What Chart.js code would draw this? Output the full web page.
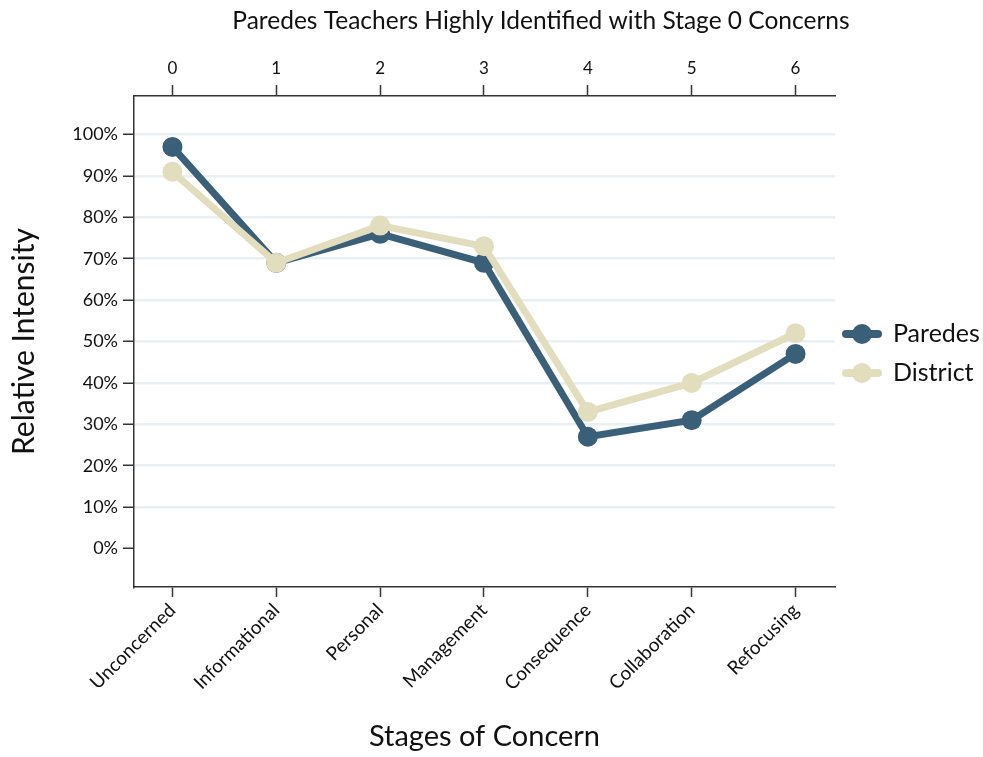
<!DOCTYPE html>
<html lang="en">
<head>
  <meta charset="UTF-8">
  <title>Paredes Teachers Highly Identified with Stage 0 Concerns</title>
  <script src="https://cdn.jsdelivr.net/npm/chart.js"></script>
  <style>
    html, body { margin:0; padding:0; background:#fff; }
    #chart { display:block; }
  </style>
</head>
<body>
<canvas id="chart" width="983" height="757"></canvas>

<script>
// data
const stages   = ['Unconcerned','Informational','Personal','Management','Consequence','Collaboration','Refocusing'];
const stageNums = ['0','1','2','3','4','5','6'];
const paredes  = [97, 69, 76, 69, 27, 31, 47];
const district = [91, 69, 78, 73, 33, 40, 52];
const yTicks   = [0, 10, 20, 30, 40, 50, 60, 70, 80, 90, 100];

const FONT = 'Lato, "Open Sans", sans-serif';
const blue = '#3a6079', sand = '#e1ddbd', axisCol = '#333', gridCol = '#e8f0f3';

const pts = arr => arr.map((v,i)=>({x:i, y:v}));
const catTicks = s => { s.ticks = stages.map((_,i)=>({value:i})); };

// title + right side legend drawn on canvas
const extras = {
  id:'extras',
  afterDraw(chart){
    const c = chart.ctx;
    c.save();
    c.fillStyle = '#111';
    c.font = '24.5px ' + FONT;
    c.textAlign = 'center'; c.textBaseline = 'middle';
    c.fillText('Paredes Teachers Highly Identified with Stage 0 Concerns', 541, 21);

    const items = [{label:'Paredes', col:blue, y:334}, {label:'District', col:sand, y:373}];
    items.forEach(it=>{
      c.strokeStyle = it.col; c.lineWidth = 8; c.lineCap = 'round';
      c.beginPath(); c.moveTo(846, it.y); c.lineTo(878, it.y); c.stroke();
      c.fillStyle = it.col;
      c.beginPath(); c.arc(862, it.y, 10, 0, Math.PI*2); c.fill();
      c.fillStyle = '#111'; c.font = '25px ' + FONT; c.textAlign = 'left';
      c.fillText(it.label, 893, it.y);
    });
    c.restore();
  }
};

new Chart(document.getElementById('chart'), {
  type:'line',
  data:{
    datasets:[
      {label:'Paredes', data:pts(paredes), borderColor:blue, backgroundColor:blue,
       pointBackgroundColor:blue, borderWidth:7, pointRadius:10, pointHoverRadius:10, pointBorderWidth:0, order:2},
      {label:'District', data:pts(district), borderColor:sand, backgroundColor:sand,
       pointBackgroundColor:sand, borderWidth:7, pointRadius:10, pointHoverRadius:10, pointBorderWidth:0, order:1}
    ]
  },
  options:{
    responsive:false, animation:false, devicePixelRatio:1,
    layout:{padding:{left:0, right:148, top:0, bottom:0}},
    plugins:{legend:{display:false}, tooltip:{enabled:false}, title:{display:false}},
    scales:{
      x:{
        type:'linear', position:'bottom', min:-0.37, max:6.38,
        afterBuildTicks:catTicks,
        afterFit:s=>{ s.height = 170; },
        ticks:{callback:v=>stages[v], minRotation:45, maxRotation:45, color:'#111', font:{family:FONT, size:19}, padding:2},
        grid:{drawOnChartArea:false, tickLength:10, tickColor:axisCol, tickWidth:1.5},
        border:{color:axisCol, width:1.5},
        title:{display:true, text:'Stages of Concern', color:'#111', font:{family:FONT, size:29}, padding:{top:0, bottom:3}}
      },
      x2:{
        type:'linear', position:'top', min:-0.37, max:6.38,
        afterBuildTicks:catTicks,
        afterFit:s=>{ s.height = 96; },
        ticks:{callback:v=>stageNums[v], maxRotation:0, color:'#111', font:{family:FONT, size:17}, padding:6},
        grid:{drawOnChartArea:false, tickLength:11, tickColor:axisCol, tickWidth:1.5},
        border:{color:axisCol, width:1.5}
      },
      y:{
        min:-9.3, max:109.3,
        afterBuildTicks:s=>{ s.ticks = yTicks.map(v=>({value:v})); },
        afterFit:s=>{ s.width = 134; },
        ticks:{callback:v=>v+'%', color:'#111', font:{family:FONT, size:18}, padding:5},
        grid:{color:ctx=>ctx.tick && ctx.tick.value===0 ? 'rgba(0,0,0,0)' : gridCol, lineWidth:2.5,
              tickLength:11, tickColor:axisCol, tickWidth:1.5},
        border:{color:axisCol, width:1.5},
        title:{display:true, text:'Relative Intensity', color:'#111', font:{family:FONT, size:30}, padding:{top:6, bottom:0}}
      }
    }
  },
  plugins:[extras]
});
</script>
</body>
</html>
